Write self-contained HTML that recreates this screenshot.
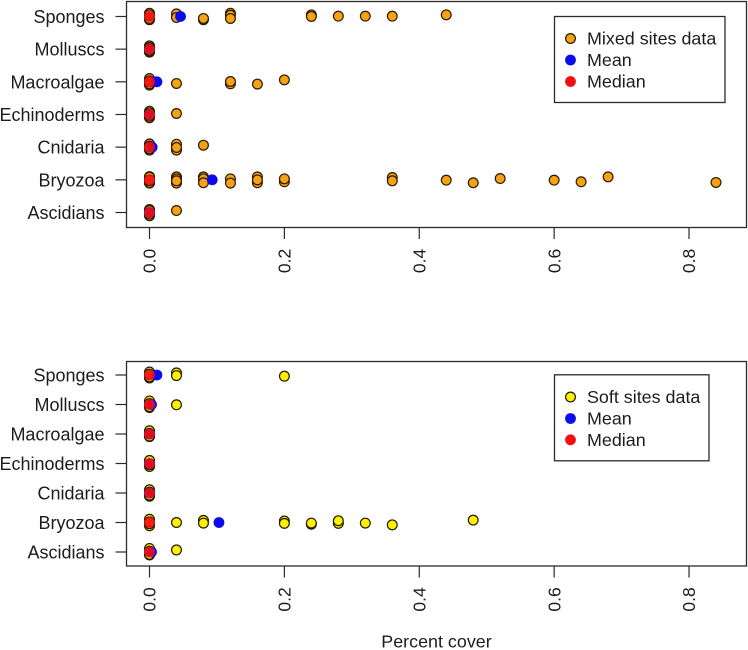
<!DOCTYPE html>
<html lang="en">
<head>
<meta charset="utf-8">
<title>Percent cover by taxon: mixed and soft sites</title>
<style>
html,body{margin:0;padding:0;background:#fff;width:748px;height:650px;overflow:hidden}
svg{display:block;font-family:"Liberation Sans",Arial,sans-serif;fill:#1c1c1c;filter:blur(0.3px)}
</style>
</head>
<body>
<svg id="chart" xmlns="http://www.w3.org/2000/svg" width="748" height="650" viewBox="0 0 748 650">
  <rect x="0" y="0" width="748" height="650" fill="#fff"/>
  <g id="mixed-panel"></g>
  <g id="soft-panel"></g>

  <g>
    <rect x="554.5" y="16.5" width="170.5" height="86" fill="#fff" stroke="#2b2b2b" stroke-width="1.3"/>
    <circle cx="570.5" cy="38.5" r="4.9" fill="#f6a217" stroke="#2a1a00" stroke-width="1.2"/>
    <circle cx="570.5" cy="60" r="5.4" fill="#0a0aee"/>
    <circle cx="570.5" cy="81.5" r="5.4" fill="#f01010"/>
    <text x="587" y="44.5" font-size="17.9">Mixed sites data</text>
    <text x="587" y="66" font-size="17.9">Mean</text>
    <text x="587" y="87.5" font-size="17.9">Median</text>
  </g>

  <g>
    <rect x="554.5" y="374.8" width="154.5" height="86" fill="#fff" stroke="#2b2b2b" stroke-width="1.3"/>
    <circle cx="570.5" cy="397" r="4.9" fill="#fff000" stroke="#1f1c00" stroke-width="1.2"/>
    <circle cx="570.5" cy="418.5" r="5.4" fill="#0a0aee"/>
    <circle cx="570.5" cy="439.8" r="5.4" fill="#f01010"/>
    <text x="587" y="403" font-size="17.9">Soft sites data</text>
    <text x="587" y="424.5" font-size="17.9">Mean</text>
    <text x="587" y="446" font-size="17.9">Median</text>
  </g>

  <text x="436.5" y="647.5" font-size="17.9" text-anchor="middle">Percent cover</text>
</svg>

<script>
// Shared labels
const categories = ["Ascidians", "Bryozoa", "Cnidaria", "Echinoderms", "Macroalgae", "Molluscs", "Sponges"];
const xTickValues = [0, 0.2, 0.4, 0.6, 0.8];
const xTickLabels = ["0.0", "0.2", "0.4", "0.6", "0.8"];

// Mixed sites: percent cover per category (same order as categories)
const mixedAscidians = [0, 0, 0, 0, 0, 0.04];
const mixedBryozoa = [0, 0, 0, 0, 0, 0, 0, 0, 0.04, 0.04, 0.04, 0.04, 0.08, 0.08, 0.08, 0.12, 0.12, 0.16, 0.16, 0.16, 0.2, 0.2, 0.36, 0.36, 0.44, 0.48, 0.52, 0.6, 0.64, 0.68, 0.84];
const mixedCnidaria = [0, 0, 0, 0, 0, 0.04, 0.04, 0.04, 0.08];
const mixedEchinoderms = [0, 0, 0, 0, 0, 0.04];
const mixedMacroalgae = [0, 0, 0, 0, 0, 0.04, 0.12, 0.12, 0.16, 0.2];
const mixedMolluscs = [0, 0, 0, 0, 0, 0];
const mixedSponges = [0, 0, 0, 0, 0.04, 0.04, 0.08, 0.08, 0.12, 0.12, 0.12, 0.24, 0.24, 0.28, 0.32, 0.36, 0.44];
const mixedMeans = [0, 0.093, 0.004, 0, 0.011, 0, 0.046];
const mixedMedians = [0, 0, 0, 0, 0, 0, 0];

// Mixed sites: vertical jitter of each point, in category rows (positive = drawn lower)
const mixedAscidiansJitter = [-0.09, 0.1, 0.02, -0.06, 0.05, -0.06];
const mixedBryozoaJitter = [0.1, -0.1, 0.06, -0.06, 0.09, -0.08, 0.03, 0, 0.1, -0.09, -0.03, 0.03, -0.09, -0.03, 0.09, -0.03, 0.1, 0.09, -0.09, 0, 0.06, -0.03, -0.07, 0.03, 0.01, 0.09, -0.04, 0.01, 0.06, -0.09, 0.08];
const mixedCnidariaJitter = [0.09, -0.1, 0.05, -0.03, 0, -0.09, 0.09, 0.01, -0.06];
const mixedEchinodermsJitter = [0.1, -0.1, 0.05, -0.05, 0, -0.03];
const mixedMacroalgaeJitter = [0.1, -0.1, 0.06, -0.03, 0, 0.05, 0.06, -0.01, 0.07, -0.06];
const mixedMolluscsJitter = [0.09, -0.1, 0.08, 0.04, -0.05, 0];
const mixedSpongesJitter = [0.1, -0.1, 0.06, -0.05, -0.08, 0.03, 0.1, 0.06, -0.1, -0.04, 0.06, -0.05, 0, -0.01, -0.01, -0.01, -0.05];

// Soft sites: percent cover per category
const softAscidians = [0, 0, 0, 0, 0.04];
const softBryozoa = [0, 0, 0, 0, 0.04, 0.08, 0.08, 0.2, 0.2, 0.24, 0.24, 0.28, 0.28, 0.32, 0.36, 0.48];
const softCnidaria = [0, 0, 0, 0];
const softEchinoderms = [0, 0, 0, 0];
const softMacroalgae = [0, 0, 0, 0];
const softMolluscs = [0, 0, 0, 0, 0.04];
const softSponges = [0, 0, 0, 0, 0.04, 0.04, 0.2];
const softMeans = [0.003, 0.103, 0, 0, 0, 0.003, 0.011];
const softMedians = [0, 0, 0, 0, 0, 0, 0];

// Soft sites: vertical jitter of each point, in category rows (positive = drawn lower)
const softAscidiansJitter = [0.1, -0.12, 0.08, -0.03, -0.07];
const softBryozoaJitter = [0.11, -0.11, 0.04, -0.02, 0, -0.07, 0.02, -0.05, 0.03, 0.06, 0.02, 0.03, -0.06, 0.02, 0.08, -0.08];
const softCnidariaJitter = [0.11, -0.11, 0.07, -0.03];
const softEchinodermsJitter = [-0.1, 0.1, -0.1, 0.04];
const softMacroalgaeJitter = [0.09, -0.11, 0.07, -0.02];
const softMolluscsJitter = [0.1, -0.12, 0.07, -0.03, 0.01];
const softSpongesJitter = [0.1, -0.1, 0.06, -0.03, -0.07, 0.02, 0.04];

const SVG_NS = "http://www.w3.org/2000/svg";
const xAxis = value => 149.5 + value * 674.4;

function makeEl(parent, tag, attrs) {
  const el = document.createElementNS(SVG_NS, tag);
  for (const key in attrs) el.setAttribute(key, attrs[key]);
  parent.appendChild(el);
  return el;
}

function drawPanel(panel) {
  const g = document.getElementById(panel.id);
  const yAxis = row => panel.bottomRowY - row * panel.rowStep;

  const frame = makeEl(g, "rect", {x: 126.5, y: panel.top, width: 620, height: panel.bottom - panel.top, fill: "none", stroke: "#2b2b2b", "stroke-width": 1.3});
  
  

  categories.forEach((name, row) => {
    const tick = makeEl(g, "line", {x1: 115.5, x2: 126.5, y1: yAxis(row), y2: yAxis(row), stroke: "#2b2b2b", "stroke-width": 1.2});
    
    
    const label = makeEl(g, "text", {x: 104.5, y: yAxis(row) + 6.5, "font-size": 18, "text-anchor": "end"});
    label.textContent = name;
    
    
  });

  xTickValues.forEach((value, i) => {
    const px = xAxis(value);
    const tick = makeEl(g, "line", {x1: px, x2: px, y1: panel.bottom, y2: panel.bottom + 11.5, stroke: "#2b2b2b", "stroke-width": 1.2});
    
    
    const label = makeEl(g, "text", {x: 0, y: 0, "font-size": 17.5, "text-anchor": "middle", transform: "translate(" + (px + 6.2) + " " + (panel.bottom + 33.5) + ") rotate(-90)"});
    label.textContent = xTickLabels[i];
    
    
  });

  panel.values.forEach((rowValues, row) => {
    rowValues.forEach((value, i) => {
      const dot = makeEl(g, "circle", {cx: xAxis(value), cy: yAxis(row - panel.jitter[row][i]), r: 4.9, fill: panel.fill, stroke: panel.stroke, "stroke-width": 1.2});
      
      
    });
  });

  panel.means.forEach((value, row) => {
    const dot = makeEl(g, "circle", {cx: xAxis(value), cy: yAxis(row), r: 5.4, fill: "#0a0aee"});
    
    
  });

  panel.medians.forEach((value, row) => {
    const dot = makeEl(g, "circle", {cx: xAxis(value), cy: yAxis(row), r: 5.4, fill: "#f01010", "fill-opacity": 0.92});
    
    
  });
}

drawPanel({
  id: "mixed-panel", top: 1.5, bottom: 227.5, bottomRowY: 212.5, rowStep: 32.67,
  fill: "#f6a217", stroke: "#2a1a00",
  values: [mixedAscidians, mixedBryozoa, mixedCnidaria, mixedEchinoderms, mixedMacroalgae, mixedMolluscs, mixedSponges],
  jitter: [mixedAscidiansJitter, mixedBryozoaJitter, mixedCnidariaJitter, mixedEchinodermsJitter, mixedMacroalgaeJitter, mixedMolluscsJitter, mixedSpongesJitter],
  means: mixedMeans, medians: mixedMedians
});

drawPanel({
  id: "soft-panel", top: 361.5, bottom: 566, bottomRowY: 552, rowStep: 29.5,
  fill: "#fff000", stroke: "#1f1c00",
  values: [softAscidians, softBryozoa, softCnidaria, softEchinoderms, softMacroalgae, softMolluscs, softSponges],
  jitter: [softAscidiansJitter, softBryozoaJitter, softCnidariaJitter, softEchinodermsJitter, softMacroalgaeJitter, softMolluscsJitter, softSpongesJitter],
  means: softMeans, medians: softMedians
});
</script>
</body>
</html>
